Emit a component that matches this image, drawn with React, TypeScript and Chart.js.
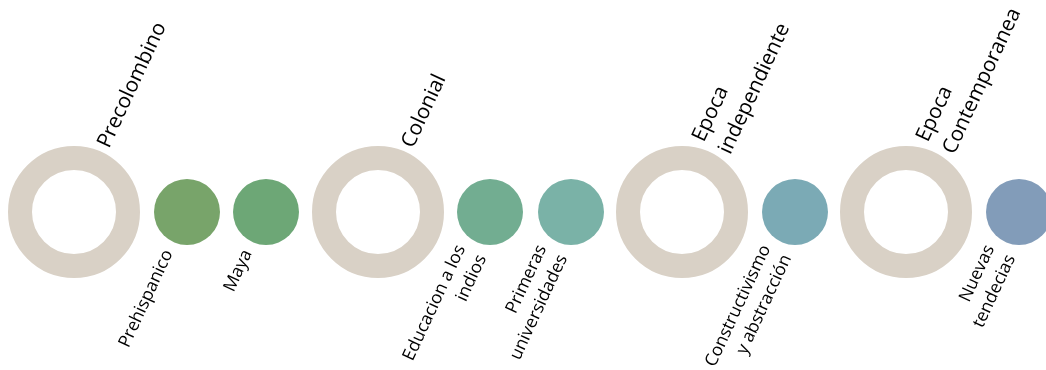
import React, { useEffect, useRef } from "react";
import { Chart, registerables } from "chart.js";

Chart.register(...registerables);

// Era (large ring) nodes
const eraLabels = ["Precolombino", "Colonial", "Epoca\nindependiente", "Epoca\nContemporanea"];
const eraPositions = [74, 378, 682, 906];

// Topic (small filled circle) nodes
const topicLabels = [
  "Prehispanico",
  "Maya",
  "Educacion a los\nindios",
  "Primeras\nuniversidades",
  "Constructivismo\ny abstracción",
  "Nuevas\ntendecias",
];
const topicPositions = [187, 266, 490, 571, 795, 1019];
const topicColors = ["#78A46A", "#6DA776", "#72AD91", "#7AB2A7", "#7BAAB5", "#829CB9"];

const LINE_Y = 212;
const RING_COLOR = "#D9D1C6";
const FONT = '"Open Sans", "DejaVu Sans", sans-serif';
const ROT = (65 * Math.PI) / 180;

const labelPlugin = {
  id: "timelineLabels",
  afterDatasetsDraw(chart: any) {
    const ctx = chart.ctx as CanvasRenderingContext2D;
    const xs = chart.scales.x;
    const ys = chart.scales.y;
    const perp = { x: Math.sin(ROT), y: Math.cos(ROT) };

    const drawBlock = (
      text: string,
      ax: number,
      ay: number,
      size: number,
      lh: number,
      align: CanvasTextAlign
    ) => {
      const lines = text.split("\n");
      const n = lines.length;
      ctx.save();
      ctx.font = `${size}px ${FONT}`;
      ctx.fillStyle = "#000000";
      ctx.textAlign = align;
      ctx.textBaseline = "alphabetic";
      lines.forEach((ln, i) => {
        const k = (i - (n - 1) / 2) * lh;
        ctx.save();
        ctx.translate(ax + k * perp.x, ay + k * perp.y);
        ctx.rotate(-ROT);
        ctx.fillText(ln, 0, 0);
        ctx.restore();
      });
      ctx.restore();
    };

    eraLabels.forEach((t, i) => {
      const px = xs.getPixelForValue(eraPositions[i]);
      const py = ys.getPixelForValue(LINE_Y);
      drawBlock(t, px + 35, py - 63, 20.8, 29, "left");
    });
    topicLabels.forEach((t, i) => {
      const px = xs.getPixelForValue(topicPositions[i]);
      const py = ys.getPixelForValue(LINE_Y);
      drawBlock(t, px - 14, py + 41, 17.5, 23, "right");
    });
  },
};

export default function App() {
  const ref = useRef<HTMLCanvasElement | null>(null);

  useEffect(() => {
    if (!ref.current) return;
    const chart = new Chart(ref.current, {
      type: "scatter",
      data: {
        datasets: [
          {
            label: "Épocas",
            data: eraPositions.map((x) => ({ x, y: LINE_Y })),
            pointRadius: 54,
            pointHoverRadius: 54,
            pointBorderWidth: 24,
            pointHoverBorderWidth: 24,
            pointBackgroundColor: "#FFFFFF",
            pointBorderColor: RING_COLOR,
            clip: false as any,
          },
          {
            label: "Temas",
            data: topicPositions.map((x) => ({ x, y: LINE_Y })),
            pointRadius: 33,
            pointHoverRadius: 33,
            pointBorderWidth: 0,
            pointBackgroundColor: topicColors,
            pointBorderColor: topicColors,
            clip: false as any,
          },
        ],
      },
      options: {
        animation: false,
        responsive: false,
        maintainAspectRatio: false,
        events: [],
        layout: { padding: 0, autoPadding: false },
        plugins: {
          legend: { display: false },
          tooltip: { enabled: false },
        },
        scales: {
          x: { type: "linear", min: 0, max: 1046, display: false },
          y: { type: "linear", min: 0, max: 370, reverse: true, display: false },
        },
      },
      plugins: [labelPlugin],
    });
    return () => chart.destroy();
  }, []);

  return (
    <div style={{ position: "fixed", left: 0, top: 0, width: 1046, height: 370, background: "#FFFFFF" }}>
      <canvas ref={ref} width={1046} height={370} style={{ display: "block", width: 1046, height: 370 }} />
    </div>
  );
}
